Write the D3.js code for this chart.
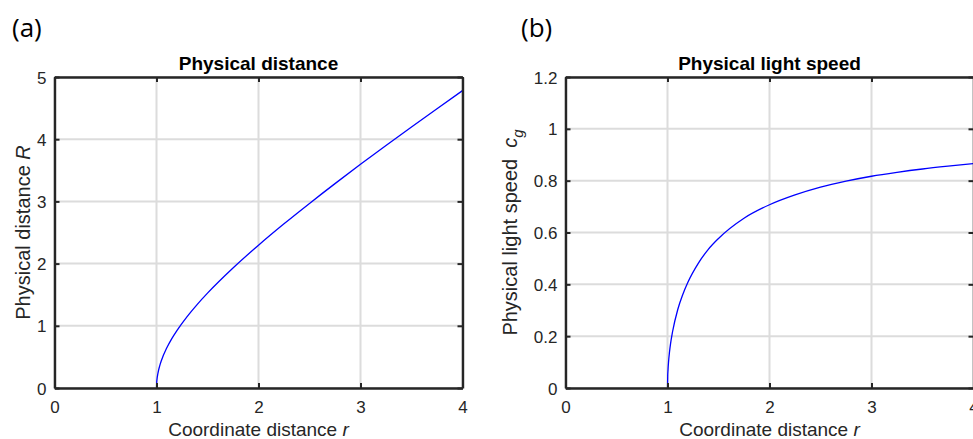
<!DOCTYPE html>
<html>
<head>
<meta charset="utf-8">
<script src="https://cdn.jsdelivr.net/npm/d3@7"></script>
<style>
    body { margin: 0; background: #fff; }
    svg { display: block; }
    .tick text { font-family: "Liberation Sans", Arial, sans-serif; font-size: 17px; fill: #262626; }
    .grid line { stroke: #dcdcdc; stroke-width: 2; }
</style>
</head>
<body>
<svg id="fig" width="973" height="439"></svg>
<script>
// coordinate distance r
var rValues = [1, 1.002, 1.005, 1.01, 1.02, 1.03, 1.05, 1.1, 1.15, 1.2, 1.3, 1.4, 1.5, 1.75,
               2, 2.25, 2.5, 2.75, 3, 3.25, 3.5, 3.75, 4];
// panel (a): physical distance R
var distValues = [0, 0.09, 0.14, 0.2, 0.284, 0.348, 0.451, 0.643, 0.794, 0.923, 1.148, 1.345, 1.525, 1.929,
                  2.296, 2.64, 2.968, 3.286, 3.596, 3.899, 4.197, 4.491, 4.781];
// panel (b): physical light speed c_g
var speedValues = [0, 0.045, 0.07, 0.1, 0.14, 0.171, 0.218, 0.302, 0.361, 0.408, 0.48, 0.535, 0.577, 0.655,
                   0.707, 0.745, 0.775, 0.798, 0.817, 0.832, 0.845, 0.856, 0.866];

var xTicks = [0, 1, 2, 3, 4];
var yTicksA = [0, 1, 2, 3, 4, 5];
var yTicksB = [0, 0.2, 0.4, 0.6, 0.8, 1, 1.2];

var svg = d3.select("#fig");
var plotTop = 77, plotBottom = 388;

function drawPanel(opts) {
    var g = svg.append("g");
    var x = d3.scaleLinear().domain([0, 4]).range([opts.left, opts.right]);
    var y = d3.scaleLinear().domain(opts.yDomain).range([plotBottom, plotTop]);
    var fmt = function(d) { return String(d); };

    // grid
    g.append("g").attr("class", "grid")
        .selectAll("line").data(xTicks).enter().append("line")
        .attr("x1", function(d) { return x(d); }).attr("x2", function(d) { return x(d); })
        .attr("y1", plotTop).attr("y2", plotBottom);
    g.append("g").attr("class", "grid")
        .selectAll("line").data(opts.yTicks).enter().append("line")
        .attr("x1", opts.left).attr("x2", opts.right)
        .attr("y1", function(d) { return y(d); }).attr("y2", function(d) { return y(d); });

    // curve
    var line = d3.line()
        .x(function(d) { return x(d[0]); })
        .y(function(d) { return y(d[1]); })
        .curve(d3.curveMonotoneX);
    g.append("path")
        .datum(rValues.map(function(r, i) { return [r, opts.values[i]]; }))
        .attr("d", line)
        .attr("fill", "none")
        .attr("stroke", "#0000ff")
        .attr("stroke-width", 1.3);

    // axes, ticks inward on all sides (matlab box)
    var bottomAxis = g.append("g").attr("transform", "translate(0," + plotBottom + ")")
        .call(d3.axisBottom(x).tickValues(xTicks).tickSizeInner(-5).tickSizeOuter(0).tickPadding(13).tickFormat(fmt));
    var leftAxis = g.append("g").attr("transform", "translate(" + opts.left + ",0)")
        .call(d3.axisLeft(y).tickValues(opts.yTicks).tickSizeInner(-5).tickSizeOuter(0).tickPadding(8).tickFormat(fmt));
    g.append("g").attr("transform", "translate(0," + plotTop + ")")
        .call(d3.axisTop(x).tickValues(xTicks).tickSizeInner(-5).tickSizeOuter(0).tickFormat(""));
    g.append("g").attr("transform", "translate(" + opts.right + ",0)")
        .call(d3.axisRight(y).tickValues(opts.yTicks).tickSizeInner(-5).tickSizeOuter(0).tickFormat(""));
    g.selectAll(".domain").attr("stroke", "#262626").attr("stroke-width", 2.4);
    g.selectAll(".tick line").attr("stroke", "#262626").attr("stroke-width", 2);
    bottomAxis.selectAll(".tick text").attr("dy", "0.71em");
    leftAxis.selectAll(".tick text").attr("dy", "0.36em");

    // title
    g.append("text")
        .attr("x", (opts.left + opts.right) / 2).attr("y", 70)
        .attr("text-anchor", "middle")
        .style("font-family", "Liberation Sans, Arial, sans-serif")
        .style("font-size", "19px").style("font-weight", "bold").style("fill", "#000")
        .text(opts.title);

    // x label
    var xl = g.append("text")
        .attr("x", (opts.left + opts.right) / 2).attr("y", 436)
        .attr("text-anchor", "middle")
        .style("font-family", "Liberation Sans, Arial, sans-serif")
        .style("font-size", "19px").style("fill", "#262626");
    xl.append("tspan").text("Coordinate distance ");
    xl.append("tspan").style("font-style", "italic").text("r");

    // y label
    var yl = g.append("text")
        .attr("transform", "translate(" + opts.yLabelX + "," + ((plotTop + plotBottom) / 2) + ") rotate(-90)")
        .attr("text-anchor", "middle")
        .style("white-space", "pre")
        .style("font-family", "Liberation Sans, Arial, sans-serif")
        .style("font-size", "20px").style("fill", "#262626");
    opts.yLabel(yl);

    // panel letter
    svg.append("text")
        .attr("x", opts.letterX).attr("y", 37)
        .style("font-family", "Open Sans, sans-serif")
        .style("font-size", "26px").style("fill", "#000")
        .text(opts.letter);
}

drawPanel({
    left: 54.5, right: 462.5,
    yDomain: [0, 5], yTicks: yTicksA,
    values: distValues,
    title: "Physical distance",
    yLabelX: 30,
    yLabel: function(t) {
        t.append("tspan").text("Physical distance ");
        t.append("tspan").style("font-style", "italic").text("R");
    },
    letter: "(a)", letterX: 12
});

drawPanel({
    left: 565.5, right: 973.5,
    yDomain: [0, 1.2], yTicks: yTicksB,
    values: speedValues,
    title: "Physical light speed",
    yLabelX: 517,
    yLabel: function(t) {
        t.append("tspan").text("Physical light speed  ");
        t.append("tspan").style("font-style", "italic").text("c");
        t.append("tspan").style("font-style", "italic").style("font-size", "15px").attr("dy", 6).text("g");
    },
    letter: "(b)", letterX: 521
});
</script>
</body>
</html>
